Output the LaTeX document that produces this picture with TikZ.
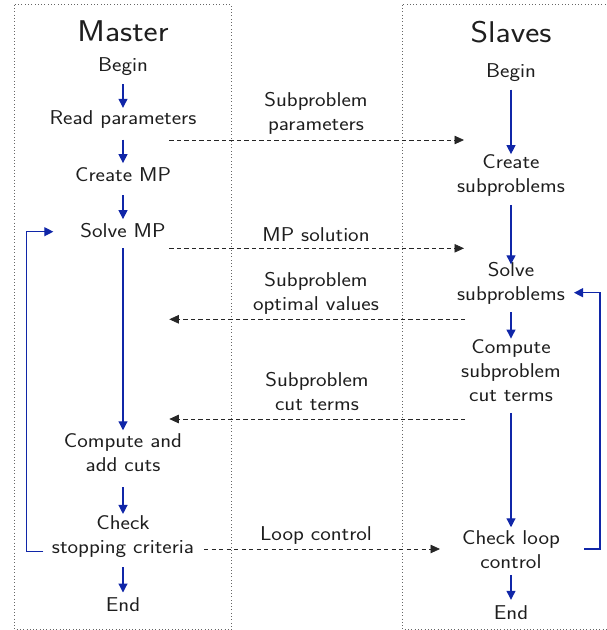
\documentclass[tikz,border=0pt]{standalone}
\usepackage{fontspec}
\setsansfont{lmsans17-regular.otf}[FakeStretch=1.12]
\usetikzlibrary{arrows.meta,calc}
\definecolor{flowblue}{RGB}{16,38,168}
\definecolor{txtcol}{RGB}{30,30,30}
\tikzset{
  txt/.style={font=\fontsize{20}{24}\selectfont\sffamily, text=txtcol, align=center, inner sep=0pt,
    execute at begin node=\strut, execute at end node=\strut},
  ttl/.style={font=\fontsize{30}{36}\selectfont\sffamily, text=txtcol, inner sep=0pt, anchor=base},
  bluearrow/.style={draw=flowblue, line width=1.2pt, -{Triangle[length=9pt,width=9pt]}},
  dasharrow/.style={draw=black!85, line width=0.8pt, dash pattern=on 4.3pt off 3.2pt, -{Triangle[length=9.5pt,width=8.5pt]}},
  lanebox/.style={draw=black!60, line width=0.5pt, dash pattern=on 0.6pt off 2.7pt}
}
\begin{document}
\begin{tikzpicture}[x=1pt,y=-1pt]
\useasboundingbox (0,0) rectangle (607,630);
% lanes
\draw[lanebox] (14.3,4.7) rectangle (231.7,629.3);
\draw[lanebox] (402.3,4.7) rectangle (615,629.3);
% titles
\node[ttl] (mtitle) at (123,41.7) {Master};
\node[ttl] (stitle) at (511,42.7) {Slaves};
% master nodes
\node[txt] (mbegin)   at (123,67)    {Begin};
\node[txt] (mread)    at (123,120)   {Read parameters};
\node[txt] (mcreate)  at (123,176.5) {Create MP};
\node[txt] (msolve)   at (123,232.5) {Solve MP};
\node[txt] (mcompute) at (123,456)   {Compute and\\add cuts};
\node[txt] (mcheck)   at (123,537.7) {Check\\stopping criteria};
\node[txt] (mend)     at (123,607)   {End};
% slave nodes
\node[txt] (sbegin)   at (511,72.5)  {Begin};
\node[txt] (screate)  at (511,176.9) {Create\\subproblems};
\node[txt] (ssolve)   at (511,285.2) {Solve\\subproblems};
\node[txt] (scompute) at (511,374)   {Compute\\subproblem\\cut terms};
\node[txt] (scheck)   at (511,553.5) {Check loop\\control};
\node[txt] (send)     at (511,614.5) {End};
% master flow
\draw[bluearrow, shorten <=5pt, shorten >=0pt]   (mbegin.south) -- (mread.north);
\draw[bluearrow, shorten <=7.3pt, shorten >=1.2pt] (mread.south) -- (mcreate.north);
\draw[bluearrow, shorten <=6.5pt, shorten >=1.2pt] (mcreate.south) -- (msolve.north);
\draw[bluearrow, shorten <=3.5pt, shorten >=3pt] (msolve.south) -- (mcompute.north);
\draw[bluearrow, shorten <=8.3pt, shorten >=1pt] (mcompute.south) -- (mcheck.north);
\draw[bluearrow, shorten <=6.6pt, shorten >=2.3pt] (mcheck.south) -- (mend.north);
% slave flow
\draw[bluearrow, shorten <=4.8pt, shorten >=0pt] (sbegin.south) -- (screate.north);
\draw[bluearrow, shorten <=5.1pt, shorten >=-2pt] (screate.south) -- (ssolve.north);
\draw[bluearrow, shorten <=4.1pt, shorten >=0.7pt] (ssolve.south) -- (scompute.north);
\draw[bluearrow, shorten <=4pt, shorten >=3.5pt] (scompute.south) -- (scheck.north);
\draw[bluearrow, shorten <=-1.5pt, shorten >=2.5pt] (scheck.south) -- (send.north);
% loops
\coordinate (mlA) at (43.3,551.7);
\coordinate (mlC) at (26.7,231.7);
\coordinate (mlD) at (53.3,231.7);
\draw[bluearrow] (mlA) -| (mlC) -- (mlD);
\coordinate (slA) at (584,549);
\coordinate (slC) at (600,292.7);
\coordinate (slD) at (574,292.7);
\draw[bluearrow] (slA) -| (slC) -- (slD);
% messages
\coordinate (d1s) at (169.3,140);   \coordinate (d1e) at (464,140);
\coordinate (d2s) at (169.3,248.3); \coordinate (d2e) at (464,248.3);
\coordinate (d3s) at (465,319.3);   \coordinate (d3e) at (169.3,319.3);
\coordinate (d4s) at (465,419);     \coordinate (d4e) at (169.3,419);
\coordinate (d5s) at (204,549);     \coordinate (d5e) at (440,549);
\draw[dasharrow] (d1s) -- (d1e);
\draw[dasharrow] (d2s) -- (d2e);
\draw[dasharrow] (d3s) -- (d3e);
\draw[dasharrow] (d4s) -- (d4e);
\draw[dasharrow] (d5s) -- (d5e);
\node[txt] (l1) at (316,115.4) {Subproblem\\parameters};
\node[txt] (l2) at (316,236.9) {MP solution};
\node[txt] (l3) at (316,294.5) {Subproblem\\optimal values};
\node[txt] (l4) at (317,394.7) {Subproblem\\cut terms};
\node[txt] (l5) at (316,535.9) {Loop control};
\end{tikzpicture}
\end{document}
